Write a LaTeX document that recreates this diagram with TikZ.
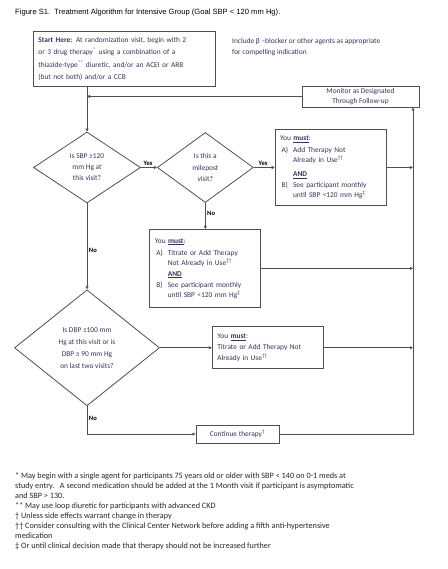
\documentclass[tikz,border=0pt]{standalone}
\usepackage{fontspec}
\setmainfont{Carlito}
\newfontfamily\headfont{Liberation Sans}
\usepackage{tikz}
\usetikzlibrary{arrows.meta,positioning,shapes.geometric}

\definecolor{ink}{RGB}{58,48,88}
\definecolor{edge}{RGB}{80,80,80}

\newcommand{\itm}[1]{\makebox[13pt][l]{\hspace{1.5pt}#1}}
\newcommand{\ind}{\hspace*{13pt}}
\newcommand{\youmust}{You \textbf{\underline{must}}:}

\begin{document}
\begin{tikzpicture}[
    x=1pt, y=-1pt,
    font=\fontsize{7.4}{10}\selectfont,
    box/.style={draw=edge, line width=0.8pt, text=ink, inner xsep=5pt, inner ysep=0pt, align=left},
    startbox/.style={box, text width=172pt, minimum height=55pt, font=\fontsize{7.4}{12.3}\selectfont},
    must/.style={box, text width=101pt},
    monbox/.style={box, align=center, minimum width=117pt, minimum height=21pt, inner xsep=0pt, font=\fontsize{7.4}{9.5}\selectfont},
    dec/.style={draw=edge, line width=0.8pt, diamond, text=ink, inner sep=0pt, align=center},
    lbl/.style={font=\bfseries\fontsize{6.6}{7}\selectfont, inner sep=1.5pt},
    flow/.style={-{Triangle[length=3pt,width=3pt]}, draw=edge, line width=0.8pt}
]
\useasboundingbox (0,0) rectangle (447,569);

\node[anchor=west, inner sep=0pt, font=\headfont\fontsize{7.6}{9}\selectfont] (title) at (15,13)
    {Figure S1.\ \ Treatment Algorithm for Intensive Group (Goal SBP < 120 mm Hg).};

\node[startbox, anchor=north west] (start) at (33,31)
    {\textbf{Start Here:} At randomization visit, begin with 2\\
     or 3 drug therapy\textsuperscript{*} using a combination of a\\
     thiazide-type\textsuperscript{**} diuretic, and/or an ACEI or ARB\\
     (but not both) and/or a CCB};
\node[anchor=north west, text=ink, align=left, inner sep=0pt, font=\fontsize{7.4}{11}\selectfont] (note) at (232,38)
    {Include β –blocker or other agents as appropriate\\ for compelling indication};
\node[monbox] (mon) at (360.5,96.5) {Monitor as Designated\\ Through Follow-up};

\node[dec, minimum width=107pt, minimum height=71pt, font=\fontsize{7.4}{11}\selectfont] (d1) at (87,167.5)
    {Is SBP ≥120\\ mm Hg at\\ this visit?};
\node[dec, minimum width=96pt, minimum height=70pt, right=16pt of d1, font=\fontsize{7.4}{11.5}\selectfont] (d2)
    {Is this a\\ milepost\\ visit?};
\node[must, minimum height=76pt, right=21pt of d2] (b1)
    {\youmust\\[2pt]
     \itm{A)}Add Therapy Not\\
     \ind Already in Use\textsuperscript{††}\\[4pt]
     \ind\textbf{\underline{AND}}\\[1pt]
     \itm{B)}See participant monthly\\
     \ind until SBP <120 mm Hg\textsuperscript{‡}};
\node[must, minimum height=78pt, below=26pt of d2] (b2)
    {\youmust\\[2pt]
     \itm{A)}Titrate or Add Therapy\\
     \ind Not Already in Use\textsuperscript{††}\\[1pt]
     \ind\textbf{\underline{AND}}\\[1pt]
     \itm{B)}See participant monthly\\
     \ind until SBP <120 mm Hg\textsuperscript{‡}};
\node[dec, minimum width=145pt, minimum height=116pt, below=86pt of d1, font=\fontsize{7.4}{12}\selectfont] (d3)
    {Is DBP ≥100 mm\\ Hg at this visit or is\\ DBP ≥ 90 mm Hg\\ on last two visits?};
\node[must, minimum height=42pt, right=52pt of d3, font=\fontsize{7.4}{11}\selectfont] (b3)
    {\youmust\\ Titrate or Add Therapy Not\\ Already in Use\textsuperscript{††}};
\node[box, align=center, minimum width=83pt, minimum height=18pt, inner xsep=0pt] (cont) at (237.5,434)
    {Continue therapy\textsuperscript{†}};
\coordinate (rail) at (413,0);

\node[anchor=north west, align=left, inner sep=0pt, text=black!85, font=\fontsize{8.2}{10.1}\selectfont] (notes) at (15,472)
    {* May begin with a single agent for participants 75 years old or older with SBP < 140 on 0-1 meds at\\
     study entry.\ \ \ A second medication should be added at the 1 Month visit if participant is asymptomatic\\
     and SBP > 130.\\
     ** May use loop diuretic for participants with advanced CKD\\
     † Unless side effects warrant change in therapy\\
     †† Consider consulting with the Clinical Center Network before adding a fifth anti-hypertensive\\
     medication\\
     ‡ Or until clinical decision made that therapy should not be increased further};

% connectors
\draw[flow] (mon.west) -- (mon.west -| d1.north);
\draw[flow] (start.south -| d1.north) -- (d1.north);
\draw[flow] (d1) -- node[lbl, above, pos=0.45] {Yes} (d2);
\draw[flow] (d2) -- node[lbl, above, pos=0.45] {Yes} (b1);
\draw[flow] (d2) -- node[lbl, right, pos=0.4] {No} (b2);
\draw[flow] (d1) -- node[lbl, right, pos=0.55] {No} (d3);
\draw[flow] (d3) -- (b3);
\draw[flow] (d3.south) |- node[lbl, right, pos=0.22] {No} (cont.west);
\draw[flow] (b1.east) -- (b1.east -| rail);
\draw[flow] (b2.east) -- (b2.east -| rail);
\draw[flow] (b3.east) -- (b3.east -| rail);
\draw[flow] (cont.east) -| (mon.south -| rail);
\end{tikzpicture}
\end{document}
